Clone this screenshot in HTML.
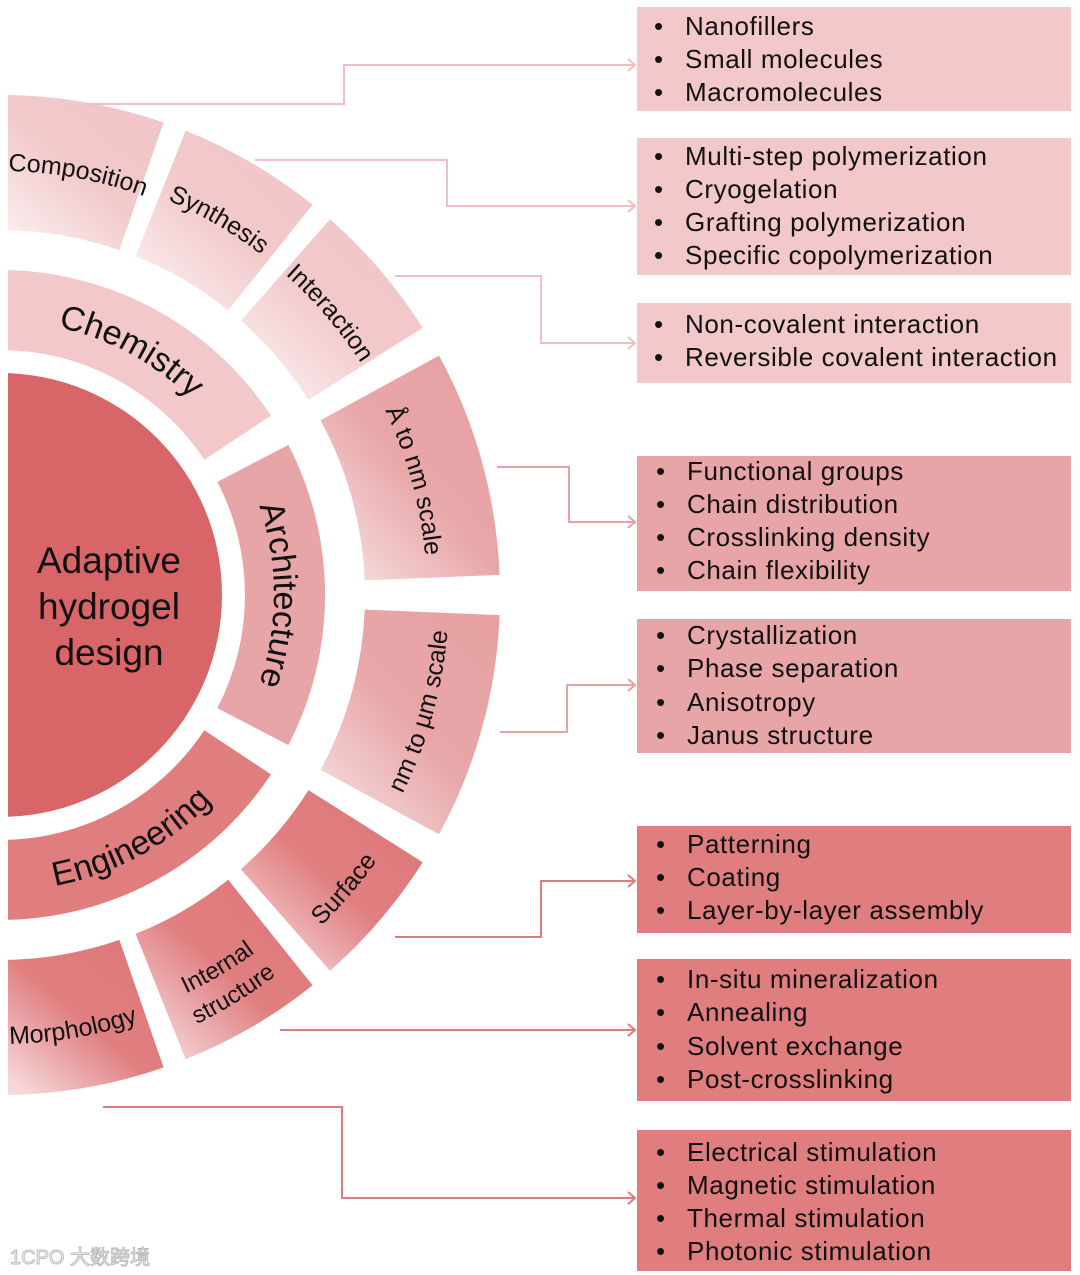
<!DOCTYPE html>
<html><head><meta charset="utf-8"><style>
html,body{margin:0;padding:0;background:#fff;}
svg{display:block;font-family:"Liberation Sans","Noto Sans CJK SC",sans-serif;}
</style></head><body>
<svg width="1080" height="1275" viewBox="0 0 1080 1275" xmlns="http://www.w3.org/2000/svg">
<defs>
<linearGradient id="gc" x1="0.9" y1="0.05" x2="0.1" y2="0.95"><stop offset="0" stop-color="#f1c5c7"/><stop offset="0.5" stop-color="#f2c9cb"/><stop offset="1" stop-color="#fbeeee"/></linearGradient>
<linearGradient id="ga" x1="0.9" y1="0.05" x2="0.1" y2="0.95"><stop offset="0" stop-color="#e7a1a3"/><stop offset="0.5" stop-color="#e8a6a8"/><stop offset="1" stop-color="#f6dcdd"/></linearGradient>
<linearGradient id="ge" x1="0.9" y1="0.05" x2="0.1" y2="0.95"><stop offset="0" stop-color="#de787a"/><stop offset="0.5" stop-color="#e07e80"/><stop offset="1" stop-color="#f6d8d9"/></linearGradient>
<path id="tChem" d="M0,321 A274,274 0 0 1 228.5,443.8"/>
<path id="tArch" d="M243,468.5 A274,274 0 0 1 243,721.5"/>
<path id="tEng" d="M0,891 A296,296 0 0 0 246.8,758.4"/>
<path id="tComp" d="M-44.3,173.3 A424,424 0 0 1 192.5,217.2"/>
<path id="tSyn" d="M159.3,196.7 A429,429 0 0 1 268.2,260.2"/>
<path id="tInt" d="M283.1,272.7 A429,429 0 0 1 362.6,365.7"/>
<path id="tA" d="M374.9,390.6 A427,427 0 0 1 426.7,577.9"/>
<path id="tNm" d="M394.2,809.9 A449,449 0 0 0 448.6,613"/>
<path id="tSurf" d="M304.3,941.4 A461,461 0 0 0 389.7,841.4"/>
<path id="tIn1" d="M163.4,1003.5 A439,439 0 0 0 274.6,937.7"/>
<path id="tIn2" d="M175,1034 A472,472 0 0 0 295,960"/>
<path id="tMor" d="M0,1044 A449,449 0 0 0 146.9,1019.3"/>
</defs>

<circle cx="0" cy="595" r="222" fill="#d86567"/>
<path d="M0,270 A325,325 0 0 1 271,415.6 L204.3,459.8 A245,245 0 0 0 0,350 Z" fill="#f2c8ca"/>
<path d="M288.3,444.9 A325,325 0 0 1 288.3,745.1 L217.3,708.1 A245,245 0 0 0 217.3,481.9 Z" fill="#e8a5a7"/>
<path d="M271,774.4 A325,325 0 0 1 0,920 L0,840 A245,245 0 0 0 204.3,730.2 Z" fill="#e07d7f"/>
<path d="M0,95 A500,500 0 0 1 163.6,122.5 L119.4,250.1 A365,365 0 0 0 0,230 Z" fill="url(#gc)"/>
<path d="M185.7,130.7 A500,500 0 0 1 312.6,204.8 L228.2,310.2 A365,365 0 0 0 135.6,256.1 Z" fill="url(#gc)"/>
<path d="M330,219.3 A500,500 0 0 1 422.7,327.8 L308.5,399.9 A365,365 0 0 0 240.9,320.8 Z" fill="url(#gc)"/>
<path d="M439,355.6 A500,500 0 0 1 499.6,574.9 L364.7,580.4 A365,365 0 0 0 320.5,420.3 Z" fill="url(#ga)"/>
<path d="M499.6,615.1 A500,500 0 0 1 439,834.4 L320.5,769.7 A365,365 0 0 0 364.7,609.6 Z" fill="url(#ga)"/>
<path d="M422.7,862.2 A500,500 0 0 1 330,970.7 L240.9,869.2 A365,365 0 0 0 308.5,790.1 Z" fill="url(#ge)"/>
<path d="M312.6,985.2 A500,500 0 0 1 185.7,1059.3 L135.6,933.9 A365,365 0 0 0 228.2,879.8 Z" fill="url(#ge)"/>
<path d="M163.6,1067.5 A500,500 0 0 1 0,1095 L0,960 A365,365 0 0 0 119.4,939.9 Z" fill="url(#ge)"/>

<g font-size="37" fill="#111" text-anchor="middle">
<text x="109" y="573">Adaptive</text>
<text x="109" y="619">hydrogel</text>
<text x="109" y="665">design</text>
</g>
<g fill="#111" text-anchor="middle">
<text font-size="34"><textPath href="#tChem" startOffset="50%">Chemistry</textPath></text>
<text font-size="34"><textPath href="#tArch" startOffset="50%">Architecture</textPath></text>
<text font-size="34"><textPath href="#tEng" startOffset="50%">Engineering</textPath></text>
<text font-size="25"><textPath href="#tComp" startOffset="50%">Composition</textPath></text>
<text font-size="25"><textPath href="#tSyn" startOffset="50%">Synthesis</textPath></text>
<text font-size="25"><textPath href="#tInt" startOffset="50%">Interaction</textPath></text>
<text font-size="25"><textPath href="#tA" startOffset="50%">Å to nm scale</textPath></text>
<text font-size="25"><textPath href="#tNm" startOffset="50%">nm to µm scale</textPath></text>
<text font-size="25"><textPath href="#tSurf" startOffset="50%">Surface</textPath></text>
<text font-size="24"><textPath href="#tIn1" startOffset="50%">Internal</textPath></text>
<text font-size="24"><textPath href="#tIn2" startOffset="50%">structure</textPath></text>
<text font-size="25"><textPath href="#tMor" startOffset="50%">Morphology</textPath></text>
</g>
<rect x="0" y="0" width="8" height="1275" fill="#fff"/>

<g fill="none" stroke-width="2">
<g stroke="#efc0c2">
<path d="M90,104 H344 V65 H635 M628,59 L635,65 L628,71"/>
<path d="M255,160 H447 V206 H635 M628,200 L635,206 L628,212"/>
<path d="M395,276 H541 V343 H635 M628,337 L635,343 L628,349"/>
</g>
<g stroke="#e8a2a4">
<path d="M497,467 H569 V522 H635 M628,516 L635,522 L628,528"/>
<path d="M500,732 H567 V685 H635 M628,679 L635,685 L628,691"/>
</g>
<g stroke="#df7b7d">
<path d="M395,937 H541 V881 H635 M628,875 L635,881 L628,887"/>
<path d="M280,1030 H635 M628,1024 L635,1030 L628,1036"/>
<path d="M103,1107 H342 V1198 H635 M628,1192 L635,1198 L628,1204"/>
</g>
</g>

<rect x="637" y="7" width="434" height="104" fill="#f2c8ca"/>
<rect x="637" y="138" width="434" height="137" fill="#f2c8ca"/>
<rect x="637" y="303" width="434" height="80" fill="#f2c8ca"/>
<rect x="637" y="456" width="434" height="135" fill="#e8a5a7"/>
<rect x="637" y="619" width="434" height="134" fill="#e8a5a7"/>
<rect x="637" y="826" width="434" height="107" fill="#df7d7f"/>
<rect x="637" y="959" width="434" height="142" fill="#df7d7f"/>
<rect x="637" y="1130" width="434" height="141" fill="#df7d7f"/>

<g font-size="26" fill="#111" letter-spacing="0.6">
<g>
<text x="654" y="35">•</text><text x="685" y="35">Nanofillers</text>
<text x="654" y="68">•</text><text x="685" y="68">Small molecules</text>
<text x="654" y="101">•</text><text x="685" y="101">Macromolecules</text>
</g>
<g>
<text x="654" y="165">•</text><text x="685" y="165">Multi-step polymerization</text>
<text x="654" y="198">•</text><text x="685" y="198">Cryogelation</text>
<text x="654" y="231">•</text><text x="685" y="231">Grafting polymerization</text>
<text x="654" y="264">•</text><text x="685" y="264">Specific copolymerization</text>
</g>
<g>
<text x="654" y="333">•</text><text x="685" y="333">Non-covalent interaction</text>
<text x="654" y="366">•</text><text x="685" y="366">Reversible covalent interaction</text>
</g>
<g>
<text x="656" y="480">•</text><text x="687" y="480">Functional groups</text>
<text x="656" y="513">•</text><text x="687" y="513">Chain distribution</text>
<text x="656" y="546">•</text><text x="687" y="546">Crosslinking density</text>
<text x="656" y="579">•</text><text x="687" y="579">Chain flexibility</text>
</g>
<g>
<text x="656" y="644">•</text><text x="687" y="644">Crystallization</text>
<text x="656" y="677">•</text><text x="687" y="677">Phase separation</text>
<text x="656" y="711">•</text><text x="687" y="711">Anisotropy</text>
<text x="656" y="744">•</text><text x="687" y="744">Janus structure</text>
</g>
<g>
<text x="656" y="853">•</text><text x="687" y="853">Patterning</text>
<text x="656" y="886">•</text><text x="687" y="886">Coating</text>
<text x="656" y="919">•</text><text x="687" y="919">Layer-by-layer assembly</text>
</g>
<g>
<text x="656" y="988">•</text><text x="687" y="988">In-situ mineralization</text>
<text x="656" y="1021">•</text><text x="687" y="1021">Annealing</text>
<text x="656" y="1055">•</text><text x="687" y="1055">Solvent exchange</text>
<text x="656" y="1088">•</text><text x="687" y="1088">Post-crosslinking</text>
</g>
<g>
<text x="656" y="1161">•</text><text x="687" y="1161">Electrical stimulation</text>
<text x="656" y="1194">•</text><text x="687" y="1194">Magnetic stimulation</text>
<text x="656" y="1227">•</text><text x="687" y="1227">Thermal stimulation</text>
<text x="656" y="1260">•</text><text x="687" y="1260">Photonic stimulation</text>
</g>
</g>

<text x="10" y="1264" font-size="20" fill="#fff" stroke="#bbb" stroke-width="1">1CPO 大数跨境</text>
</svg>
</body></html>
